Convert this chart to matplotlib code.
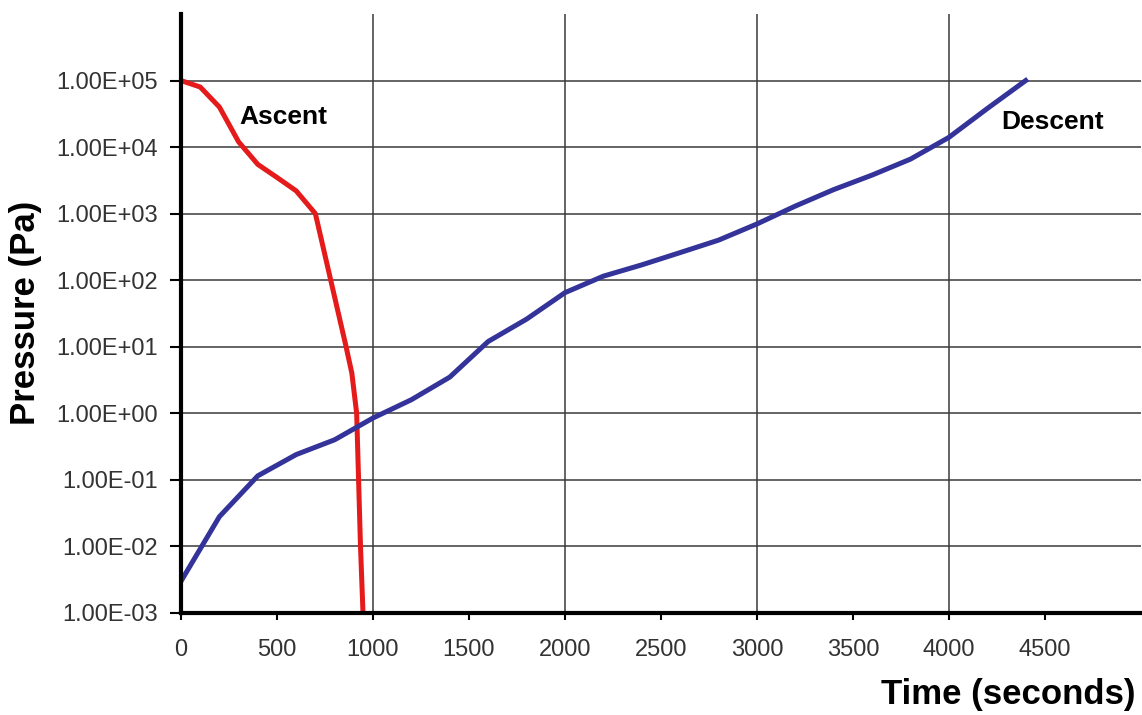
import matplotlib.pyplot as plt
from matplotlib.ticker import FixedLocator, NullLocator

plt.rcParams['font.family'] = ['Liberation Sans', 'DejaVu Sans']

# ascent profile (time in s, pressure in Pa)
ascent_t = [0, 100, 200, 300, 400, 500, 600, 700, 780, 860, 890, 915, 925, 935, 948]
ascent_p = [1e5, 8e4, 4e4, 1.2e4, 5.5e3, 3.5e3, 2.2e3, 1e3, 1e2, 1e1, 4, 1, 1e-1, 1e-2, 1e-3]

# descent profile
descent_t = [0, 200, 400, 600, 800, 1000, 1200, 1400, 1600, 1800, 2000, 2200,
             2400, 2600, 2800, 3000, 3200, 3400, 3600, 3800, 4000, 4200, 4400]
descent_p = [3e-3, 2.8e-2, 0.115, 0.24, 0.4, 0.85, 1.6, 3.5, 12, 26, 65, 115,
             170, 260, 400, 700, 1.3e3, 2.3e3, 3.8e3, 6.6e3, 1.4e4, 3.8e4, 1e5]

y_ticks = [1e-3, 1e-2, 1e-1, 1e0, 1e1, 1e2, 1e3, 1e4, 1e5]
x_ticks = [0, 500, 1000, 1500, 2000, 2500, 3000, 3500, 4000, 4500]
x_grid = [1000, 2000, 3000, 4000]

fig = plt.figure(figsize=(11.42, 7.15), dpi=100)
ax = fig.add_axes([0.1585, 0.1427, 0.8405, 0.8377])

# grid lines first so the curves sit on top
for v in y_ticks[1:]:
    ax.axhline(v, color='#3a3a3a', lw=1.1, zorder=1)
for v in x_grid:
    ax.axvline(v, color='#3a3a3a', lw=1.1, zorder=1)

ax.plot(ascent_t, ascent_p, color='#e51a1a', lw=3.6, zorder=3)
ax.plot(descent_t, descent_p, color='#333399', lw=3.6, zorder=3)

ax.set_yscale('log')
ax.set_xlim(0, 5000)
ax.set_ylim(1e-3, 1e6)

ax.yaxis.set_major_locator(FixedLocator(y_ticks))
ax.yaxis.set_minor_locator(NullLocator())
ax.set_yticklabels(['%.2E' % v for v in y_ticks])
ax.set_xticks(x_ticks)

ax.tick_params(axis='both', labelsize=17, labelcolor='#333333', color='black')
ax.tick_params(axis='y', length=8, width=1.5, pad=9)
ax.tick_params(axis='x', length=5, width=1.5, pad=14)

for s in ['top', 'right']:
    ax.spines[s].set_visible(False)
for s in ['left', 'bottom']:
    ax.spines[s].set_linewidth(3)
    ax.spines[s].set_zorder(4)

ax.text(302, 10**4.45, 'Ascent', fontsize=19, fontweight='bold', va='center', ha='left')
ax.text(4275, 10**4.37, 'Descent', fontsize=19, fontweight='bold', va='center', ha='left')

fig.text(0.994, 0.028, 'Time (seconds)', fontsize=25, fontweight='bold', ha='right', va='center')
fig.text(0.022, 0.562, 'Pressure (Pa)', fontsize=25, fontweight='bold', rotation=90,
         ha='center', va='center')

plt.savefig('out.png', dpi=100)
